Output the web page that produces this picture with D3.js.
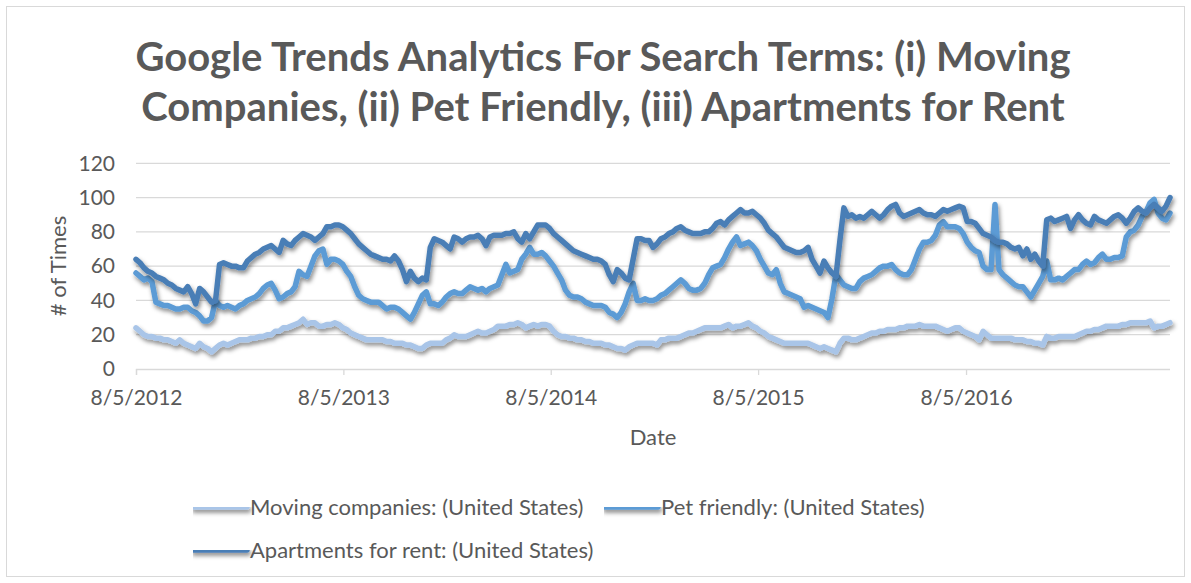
<!DOCTYPE html>
<html><head><meta charset="utf-8">
<script src="https://cdn.jsdelivr.net/npm/d3@7"></script>
<style>
html,body{margin:0;padding:0;background:#fff;}
text{font-family:Lato,"Open Sans",sans-serif;}
</style></head>
<body><svg id="c" width="1191" height="583"></svg>
<script>
const startDate = "2012-08-05";
const seriesNames = ["Moving companies: (United States)", "Pet friendly: (United States)", "Apartments for rent: (United States)"];
const movingCompanies = [
24,22,20,19,19,18,18,17,17,16,
15,17,15,14,13,12,15,13,12,10,
12,14,15,14,15,16,17,17,17,18,
18,19,19,20,20,22,22,24,24,25,
26,27,29,26,27,27,25,25,26,26,
27,26,24,23,21,20,19,18,17,17,
17,17,17,16,16,15,15,15,14,14,
13,12,12,14,15,15,15,15,17,18,
20,19,19,19,20,21,22,21,21,22,
23,25,25,25,26,26,27,26,24,25,
26,25,26,26,25,22,20,19,19,18,
18,17,17,16,16,15,15,15,14,14,
13,12,12,11,13,14,15,15,15,15,
15,14,17,17,18,18,18,19,20,21,
21,22,23,24,24,24,24,24,25,26,
24,25,25,26,27,25,24,22,21,19,
18,17,16,15,15,15,15,15,15,15,
14,13,12,13,12,11,10,15,18,18,
17,17,18,19,20,21,21,22,22,23,
23,23,24,24,25,25,25,26,25,25,
25,25,24,23,22,23,24,24,22,21,
20,19,17,22,20,18,18,18,18,18,
18,17,17,17,16,16,15,15,14,19,
18,18,19,19,19,19,19,20,21,22,
22,23,23,24,25,25,25,25,26,26,
27,27,27,27,27,28,24,25,25,26,
27];
const petFriendly = [
56,54,52,53,51,39,38,37,37,36,
35,35,36,36,34,33,31,28,28,30,
40,37,36,37,36,35,37,38,40,41,
42,44,47,49,50,46,41,42,44,45,
48,57,55,54,60,66,69,70,61,64,
64,63,61,57,54,48,43,41,40,39,
39,39,37,35,36,36,35,33,31,29,
33,38,43,45,38,38,37,39,42,44,
45,44,44,46,48,47,46,47,45,47,
48,49,55,61,56,57,58,64,67,71,
67,67,68,66,63,60,56,52,46,43,
42,42,41,39,38,37,37,37,36,33,
32,30,33,38,45,50,40,40,41,40,
40,41,43,44,46,48,50,52,50,47,
46,46,47,50,55,59,60,61,65,70,
74,77,72,73,74,72,69,64,60,56,
55,58,50,45,44,43,42,41,36,37,
36,35,34,33,30,41,55,52,49,48,
47,47,51,53,54,55,57,59,60,60,
61,58,56,55,55,58,64,70,74,74,
75,78,84,86,83,83,83,82,79,74,
71,69,68,60,58,58,96,58,55,53,
51,49,48,48,45,42,46,50,54,63,
52,52,53,52,54,56,58,58,61,63,
61,62,65,67,64,64,65,65,66,77,
80,81,84,89,92,97,99,91,88,87,
91];
const apartmentsForRent = [
64,62,59,57,56,54,53,52,50,49,
47,46,45,48,44,38,47,45,42,39,
40,61,62,61,60,60,59,59,63,65,
67,68,70,71,72,70,68,75,73,72,
75,77,79,78,77,75,77,79,83,83,
84,84,83,81,79,76,73,71,69,67,
66,65,64,64,63,66,63,58,51,57,
53,51,53,52,71,76,75,74,72,70,
77,76,74,76,77,77,78,76,72,77,
78,78,78,79,79,80,76,74,79,76,
80,84,84,84,82,79,77,75,73,71,
69,68,67,66,65,64,64,63,61,55,
51,58,56,53,52,64,76,76,75,75,
71,73,76,77,79,80,82,83,81,80,
79,79,79,80,80,82,85,86,84,87,
89,91,93,91,91,92,90,88,85,81,
79,77,74,71,70,69,68,68,69,71,
64,60,56,63,59,56,54,75,94,89,
90,88,89,88,90,92,90,88,90,93,
95,96,91,89,90,91,92,93,91,90,
90,89,91,93,92,93,94,95,94,86,
86,85,82,79,78,77,75,74,74,73,
71,70,71,66,70,64,67,63,60,87,
88,86,87,88,89,82,87,90,87,85,
84,89,87,86,85,87,89,90,88,85,
88,92,94,92,91,94,96,94,92,95,
100];
const yTicks = [0,20,40,60,80,100,120];
const xTickLabels = ["8/5/2012","8/5/2013","8/5/2014","8/5/2015","8/5/2016"];
const titleLines = ["Google Trends Analytics For Search Terms: (i) Moving","Companies, (ii) Pet Friendly, (iii) Apartments for Rent"];
const colors = ["#A9C5E8","#5B9BD5","#4A7EB6"];

const parse = d3.timeParse("%Y-%m-%d");
const t0 = parse(startDate);
const dates = movingCompanies.map((_, i) => d3.timeDay.offset(t0, 7 * i));
const allSeries = [movingCompanies, petFriendly, apartmentsForRent];

const svg = d3.select("#c");
const defs = svg.append("defs");
const f = defs.append("filter").attr("id","sh").attr("filterUnits","userSpaceOnUse")
  .attr("x",0).attr("y",0).attr("width",1191).attr("height",583);
f.append("feDropShadow").attr("dx",1.5).attr("dy",3).attr("stdDeviation",2).attr("flood-color","#000").attr("flood-opacity",0.45);

svg.append("rect").attr("x",6.5).attr("y",6.5).attr("width",1178).attr("height",570)
  .attr("fill","#fff").attr("stroke","#d9d9d9");

const x = d3.scaleTime().domain([t0, dates[dates.length-1]]).range([136, 1170]);
const y = d3.scaleLinear().domain([0,120]).range([369, 163.3]);

// gridlines
svg.append("g").selectAll("line").data(yTicks.filter(d=>d>0)).join("line")
  .attr("x1",136).attr("x2",1170).attr("y1",d=>y(d)).attr("y2",d=>y(d))
  .attr("stroke","#d9d9d9").attr("stroke-width",1.3);

// y axis labels
const yAxis = d3.axisLeft(y).tickValues(yTicks).tickSize(0).tickPadding(21);
const gy = svg.append("g").attr("transform","translate(136,0)").call(yAxis);
gy.select(".domain").remove();
gy.selectAll("text").attr("font-size",21).attr("fill","#595959").attr("font-family","Lato");

// x axis
const tickDates = xTickLabels.map(s => d3.timeParse("%m/%d/%Y")(s));
const xAxis = d3.axisBottom(x).tickValues(tickDates).tickSize(6).tickPadding(15).tickFormat((d,i)=>xTickLabels[i]);
const gx = svg.append("g").attr("transform","translate(0,369)").call(xAxis);
gx.select(".domain").attr("stroke","#d9d9d9").attr("stroke-width",1.3).attr("d","M136.5,6V0.5H1170");
gx.selectAll(".tick line").attr("stroke","#d9d9d9").attr("stroke-width",1.3);
gx.selectAll("text").attr("font-size",21).attr("fill","#595959").attr("font-family","Lato");

// axis titles
svg.append("text").attr("x",653).attr("y",445).attr("text-anchor","middle")
  .attr("font-size",22).attr("fill","#595959").text("Date");
svg.append("text").attr("transform","translate(66,266) rotate(-90)").attr("text-anchor","middle")
  .attr("font-size",22).attr("fill","#595959").text("# of Times");

// title
svg.append("g").selectAll("text").data(titleLines).join("text")
  .attr("x",603).attr("y",(d,i)=>71+i*50).attr("text-anchor","middle")
  .attr("font-size",40).attr("font-weight","bold").attr("fill","#595959").text(d=>d);

// lines
const line = d3.line().x((d,i)=>x(dates[i])).y(d=>y(d)).curve(d3.curveLinear);
svg.append("g").selectAll("path").data(allSeries).join("path")
  .attr("d", d=>line(d)).attr("fill","none").attr("stroke",(d,i)=>colors[i])
  .attr("stroke-width",5.5).attr("stroke-linejoin","round").attr("stroke-linecap","round")
  .attr("filter","url(#sh)");

// legend
const legendPos = [[193,507],[604,507],[193,550]];
const lg = svg.append("g").selectAll("g").data(seriesNames).join("g")
  .attr("transform",(d,i)=>`translate(${legendPos[i][0]},${legendPos[i][1]})`);
lg.append("line").attr("x1",0).attr("x2",54).attr("y1",0).attr("y2",0)
  .attr("stroke",(d,i)=>colors[i]).attr("stroke-width",5.5).attr("stroke-linecap","round").attr("filter","url(#sh)");
lg.append("text").attr("x",57).attr("y",8).attr("font-size",22).attr("fill","#595959").text(d=>d);
</script></body></html>
